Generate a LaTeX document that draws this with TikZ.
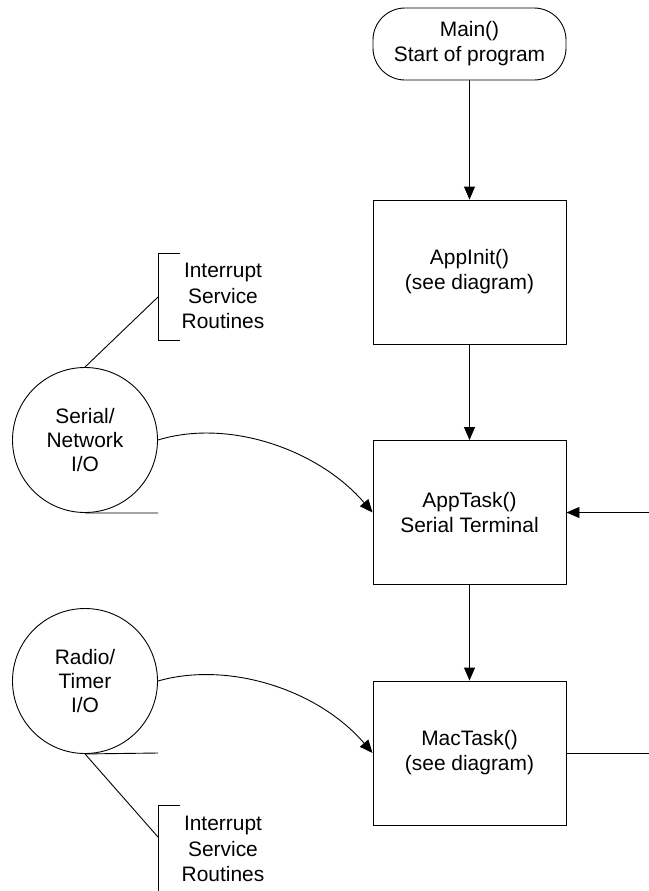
\documentclass[tikz,border=0pt]{standalone}
\usepackage{fontspec}
\setmainfont{Liberation Sans}
\usepackage{tikz}
\usetikzlibrary{arrows.meta}

\tikzset{
  flow/.style={-{Triangle[length=13bp, width=11bp]}},
  taskbox/.style={draw, minimum width=193bp, minimum height=144bp,
    align=center, font=\fontsize{21}{25}\selectfont},
  startbox/.style={draw, rounded corners=32bp, minimum width=193bp,
    minimum height=72bp, align=center, font=\fontsize{21}{25}\selectfont},
  iocircle/.style={draw, circle, minimum size=145bp, inner sep=0pt,
    align=center, font=\fontsize{21}{24}\selectfont},
  note/.style={align=center, font=\fontsize{21}{25.5}\selectfont}
}

\begin{document}
\begin{tikzpicture}[x=1bp, y=-1bp, line width=0.9bp]
        \useasboundingbox (0,0) rectangle (649,891);
        % Main flow
        \node[startbox] (main) at (469.5,44) {Main()\\Start of program};
        \node[taskbox] (appinit) at (469.5,272) {AppInit()\\(see diagram)};
        \node[taskbox] (apptask) at (469.5,512.5) {AppTask()\\Serial Terminal};
        \node[taskbox] (mactask) at (469.5,753) {MacTask()\\(see diagram)};
        \draw[flow] (main) -- (appinit);
        \draw[flow] (appinit) -- (apptask);
        \draw[flow] (apptask) -- (mactask);
        % Loose ends on the right
        \coordinate (loopin) at (649,512.5);
        \coordinate (loopout) at (649,753);
        \draw[flow] (loopin) -- (apptask.east);
        \draw (mactask.east) -- (loopout);
        % Serial I/O
        \node[iocircle] (serial) at (85,440) {Serial/\\Network\\I/O};
        \draw[flow] (serial.east) .. controls +(72,-22) and +(-53,-62) .. (apptask.west);
        \coordinate (serialtail) at (158,513);
        \draw (serial.south) -- (serialtail);
        \node[note] (isrtop) at (223,296) {Interrupt\\Service\\Routines};
        \draw (180,253) -- (158,253) -- (158,340) -- (180,340);
        \coordinate (isrtoplink) at (158,297);
        \draw (serial.north) -- (isrtoplink);
        % Radio I/O
        \node[iocircle] (radio) at (85,681) {Radio/\\Timer\\I/O};
        \draw[flow] (radio.east) .. controls +(70,-20) and +(-55,-64) .. (mactask.west);
        \coordinate (radiotail) at (158,753);
        \draw (radio.south) -- (radiotail);
        \node[note] (isrbot) at (223,849) {Interrupt\\Service\\Routines};
        \draw (180,805) -- (158,805) -- (158,891);
        \coordinate (isrbotlink) at (158,837);
        \draw (radio.south) -- (isrbotlink);
      \end{tikzpicture}
\end{document}
